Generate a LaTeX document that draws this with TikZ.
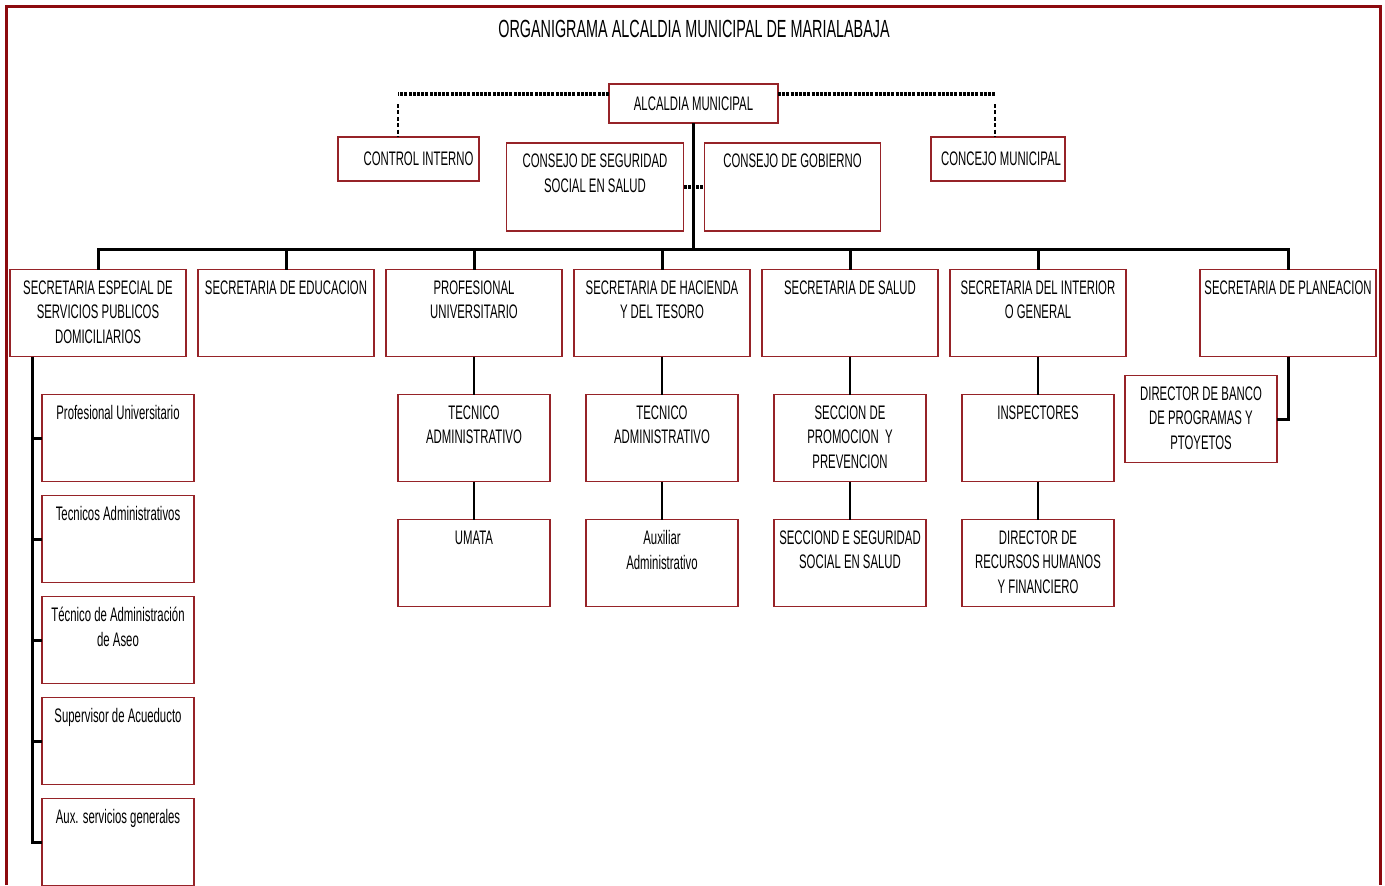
\documentclass[tikz,border=0pt]{standalone}
\usepackage{fontspec}
\setmainfont{Liberation Sans}[FakeStretch=0.58]
\usetikzlibrary{positioning}
\definecolor{boxred}{RGB}{150,35,40}
\definecolor{framered}{RGB}{140,10,15}

\begin{document}
\begin{tikzpicture}[
  x=0.5pt, y=-0.5pt,
  node distance=6pt and 6pt,
  every node/.style={font=\fontsize{9.8}{12.3}\selectfont, inner sep=0pt, outer sep=0pt},
  box/.style={draw=boxred, line width=0.9pt, align=center},
  sec/.style={box, minimum width=88pt, minimum height=43.5pt},
  sub/.style={box, minimum width=76pt, minimum height=43.5pt},
  toptext/.style={anchor=north, align=center, inner sep=0pt, yshift=-5.5pt},
  toplabel/.style={label={[toptext]north:{#1}}},
  link/.style={line width=1pt},
  trunk/.style={line width=1.5pt},
  dotlink/.style={line width=1.6pt, dash pattern=on 1.5pt off 0.6pt},
  dashlink/.style={line width=1pt, dash pattern=on 2pt off 1.2pt}
]
\useasboundingbox (0,0) rectangle (1385,885);
\clip (0,0) rectangle (1385,885);

% Frame and title
\draw[framered, line width=1.5pt] (6,885) -- (6,6) -- (1380,6) -- (1380,885);
\node[font=\fontsize{12.4}{14}\selectfont] (titulo) at (694,29) {ORGANIGRAMA ALCALDIA MUNICIPAL DE MARIALABAJA};

% Top level
\node[box, minimum width=84.5pt, minimum height=19.5pt] (alcaldia) at (693.5,103.5) {ALCALDIA MUNICIPAL};
\node[box, minimum width=70.5pt, minimum height=22pt] (control) [below left=7pt and 65pt of alcaldia] {\hspace*{10pt}CONTROL INTERNO};
\node[box, minimum width=88.5pt, minimum height=44pt, toplabel={CONSEJO DE SEGURIDAD\\ SOCIAL EN SALUD}] (cseg) [below left=10pt and 5pt of alcaldia.south] {};
\node[box, minimum width=88pt, minimum height=44pt, toplabel={CONSEJO DE GOBIERNO}] (cgob) [below right=10pt and 5.5pt of alcaldia.south] {};
\node[box, minimum width=67pt, minimum height=22pt] (concejo) [below right=7pt and 76.5pt of alcaldia] {\hspace*{3pt}CONCEJO MUNICIPAL};

% Secretarias
\node[sec, toplabel={SECRETARIA ESPECIAL DE\\ SERVICIOS PUBLICOS\\ DOMICILIARIOS}] (sppd) at (98,313) {};
\node[sec, toplabel={SECRETARIA DE EDUCACION}] (edu) [right=of sppd] {};
\node[sec, toplabel={PROFESIONAL\\ UNIVERSITARIO}] (prof) [right=of edu] {};
\node[sec, toplabel={SECRETARIA DE HACIENDA\\ Y DEL TESORO}] (hac) [right=of prof] {};
\node[sec, toplabel={SECRETARIA DE SALUD}] (salud) [right=of hac] {};
\node[sec, toplabel={SECRETARIA DEL INTERIOR\\ O GENERAL}] (interior) [right=of salud] {};
\node[sec, toplabel={SECRETARIA DE PLANEACION}] (plan) [right=37pt of interior] {};

% Dependencias
\node[sub, toplabel={TECNICO\\ ADMINISTRATIVO}] (tecprof) [below=19pt of prof] {};
\node[sub, toplabel={UMATA}] (umata) [below=19pt of tecprof] {};
\node[sub, toplabel={TECNICO\\ ADMINISTRATIVO}] (techac) [below=19pt of hac] {};
\node[sub, toplabel={Auxiliar\\ Administrativo}] (auxhac) [below=19pt of techac] {};
\node[sub, toplabel={SECCION DE\\ PROMOCION\ \ Y\\ PREVENCION}] (promo) [below=19pt of salud] {};
\node[sub, toplabel={SECCIOND E SEGURIDAD\\ SOCIAL EN SALUD}] (segsal) [below=19pt of promo] {};
\node[sub, toplabel={INSPECTORES}] (insp) [below=19pt of interior] {};
\node[sub, toplabel={DIRECTOR DE\\ RECURSOS HUMANOS\\ Y FINANCIERO}] (rrhh) [below=19pt of insp] {};
\node[sub, toplabel={DIRECTOR DE BANCO\\ DE PROGRAMAS Y\\ PTOYETOS}] (banco) [below left=9.5pt and 5.5pt of plan.south] {};

% Servicios publicos
\node[sub, toplabel={Profesional Universitario}] (profu) [below right=19pt and 16pt of sppd.south west] {};
\node[sub, toplabel={Tecnicos Administrativos}] (tecadm) [below=7pt of profu] {};
\node[sub, toplabel={Técnico de Administración\\ de Aseo}] (aseo) [below=7pt of tecadm] {};
\node[sub, toplabel={Supervisor de Acueducto}] (acued) [below=7pt of aseo] {};
\node[sub, toplabel={Aux. servicios generales}] (auxsg) [below=7pt of acued] {};

% Main lines
\coordinate (bus) at (693.5,249.5);
\draw[trunk] (alcaldia) -- (bus);
\draw[trunk] (sppd.north) |- (bus) -| (plan.north);
\foreach \n in {edu,prof,hac,salud,interior}
  \draw[trunk] (\n.north) -- (\n.north |- bus);
\draw[trunk] (plan.south) |- (banco.east);

% Dependencias lines
\draw[link] (prof) -- (tecprof);
\draw[link] (tecprof) -- (umata);
\draw[link] (hac) -- (techac);
\draw[link] (techac) -- (auxhac);
\draw[link] (salud) -- (promo);
\draw[link] (promo) -- (segsal);
\draw[link] (interior) -- (insp);
\draw[link] (insp) -- (rrhh);

\coordinate (spine) at ([xshift=11pt]sppd.south west);
\draw[trunk] (spine) |- (auxsg.west);
\foreach \n in {profu,tecadm,aseo,acued}
  \draw[trunk] (spine |- \n.west) -- (\n.west);

% Dotted advisory lines
\draw[dotlink] (cseg) -- (cgob);
\draw[dotlink] ([yshift=4.75pt]alcaldia.west) -- ++(-105.5pt,0) coordinate (cil);
\draw[dashlink] ([yshift=-5pt]cil) -- (cil |- control.north);
\draw[dotlink] ([yshift=4.75pt]alcaldia.east) -- ++(108.5pt,0) coordinate (cmr);
\draw[dashlink] ([yshift=-5pt]cmr) -- (cmr |- concejo.north);

\end{tikzpicture}
\end{document}
